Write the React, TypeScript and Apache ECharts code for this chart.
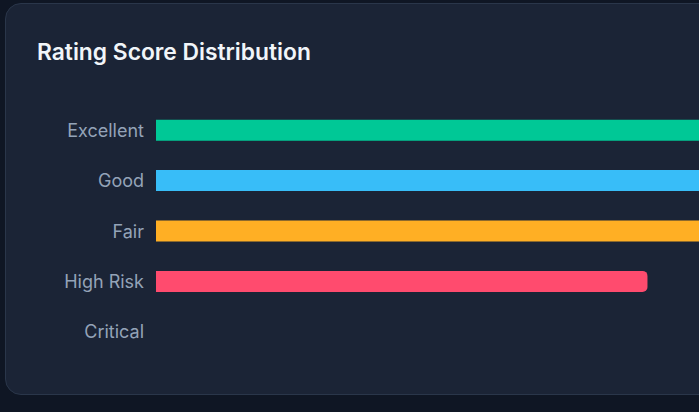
import React, { useEffect, useRef } from "react";
import * as echarts from "echarts";

const categories = ["Excellent", "Good", "Fair", "High Risk", "Critical"];
const values = [92, 86, 78, 59.5, 0];
const barColors = ["#00c896", "#38bdf8", "#ffaf24", "#ff4b6e", "#ef4444"];
const titleText = "Rating Score Distribution";

export default function App() {
  const ref = useRef<HTMLDivElement>(null);
  useEffect(() => {
    if (!ref.current) return;
    const chart = echarts.init(ref.current, null, { renderer: "svg" });
    chart.setOption({
      animation: false,
      backgroundColor: "transparent",
      title: {
        text: titleText,
        left: 26,
        top: 31,
        textStyle: {
          color: "#f1f5f9",
          fontSize: 22.8,
          fontWeight: 600,
          fontFamily: "Inter",
        },
      },
      grid: { left: 150, right: 24, top: 101, bottom: 37 },
      xAxis: {
        type: "value",
        min: 0,
        max: 100,
        show: false,
      },
      yAxis: {
        type: "category",
        data: categories,
        inverse: true,
        axisLine: { show: false },
        axisTick: { show: false },
        splitLine: { show: false },
        axisLabel: {
          color: "#94a3b8",
          fontSize: 18,
          fontFamily: "Inter",
          margin: 12,
          padding: [2, 0, 0, 0],
        },
      },
      series: [
        {
          type: "bar",
          barWidth: 21,
          data: values.map((v, i) => ({
            value: v,
            itemStyle: { color: barColors[i], borderRadius: [0, 5, 5, 0] },
          })),
        },
      ],
    });
    return () => chart.dispose();
  }, []);
  return (
    <div
      style={{
        position: "fixed",
        left: 0,
        top: 0,
        width: 699,
        height: 412,
        background: "#0f1624",
        overflow: "hidden",
      }}
    >
      <div
        style={{
          position: "absolute",
          left: 5,
          top: 3,
          width: 1000,
          height: 390,
          background: "#1b2436",
          border: "1px solid #2a364a",
          borderRadius: 16,
          overflow: "hidden",
        }}
      >
        <div ref={ref} style={{ width: 1000, height: 390 }} />
      </div>
    </div>
  );
}
